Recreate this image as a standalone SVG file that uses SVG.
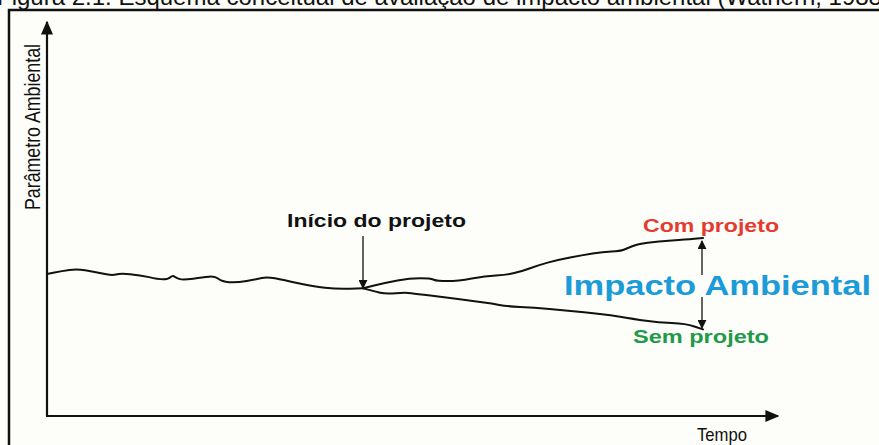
<svg xmlns="http://www.w3.org/2000/svg" width="879" height="445" viewBox="0 0 879 445">
<defs>
<style>
.ln{fill:none;stroke:#111;stroke-width:2;stroke-linejoin:round;stroke-linecap:round}
.ax{fill:none;stroke:#111;stroke-width:2.2}
.th{fill:none;stroke:#111;stroke-width:1.3}
.reg{font-family:"Liberation Sans",Arial,sans-serif;fill:#111}
.bold{font-family:"Liberation Sans",Arial,sans-serif;font-weight:bold}
</style>
<marker id="ahBig" viewBox="0 0 10 10" refX="9" refY="5" markerWidth="14" markerHeight="12" markerUnits="userSpaceOnUse" orient="auto" preserveAspectRatio="none">
<path d="M0,0 L10,5 L0,10 z" fill="#111"/>
</marker>
<marker id="ahSm" viewBox="0 0 10 10" refX="9" refY="5" markerWidth="9" markerHeight="9" markerUnits="userSpaceOnUse" orient="auto" preserveAspectRatio="none">
<path d="M0,0 L10,5 L0,10 z" fill="#111"/>
</marker>
</defs>
<rect x="0" y="0" width="879" height="445" fill="#fdfdfa"/>
<text class="reg" x="-3" y="5" font-size="24">Figura 2.1: Esquema conceitual de avaliação de impacto ambiental (Wathern, 1988)</text>
<rect id="frame" x="9" y="10" width="900" height="460" fill="none" stroke="#111" stroke-width="2.5"/>

<g id="axes">
<line class="ax" x1="47" y1="416" x2="47" y2="22" marker-end="url(#ahBig)"/>
<line class="ax" x1="46" y1="416" x2="778" y2="416" marker-end="url(#ahBig)"/>
</g>
<g id="label-y"><text class="reg" font-size="22" transform="translate(40,127) rotate(-90)" text-anchor="middle" textLength="166" lengthAdjust="spacingAndGlyphs">Parâmetro Ambiental</text></g>
<g id="label-x"><text class="reg" x="697" y="441" font-size="19" textLength="50" lengthAdjust="spacingAndGlyphs">Tempo</text></g>

<g id="connectors">
<path id="baseline" class="ln" d="M47,274 L54.5,272.5 Q62,271 69.5,270 Q77,269 85,270.25 Q93,271.5 102.35,273.6 Q111.7,275.7 115.85,274.5 Q120,273.3 130,274.15 Q140,275 149,277.15 Q158,279.3 163,279.3 Q168,279.3 170.35,277.15 Q172.7,275 174.7,276.65 Q176.7,278.3 180,279.15 Q183.3,280 193.15,278.65 Q203,277.3 209,276.65 Q215,276 218.35,278.85 Q221.7,281.7 229.2,282.2 Q236.7,282.7 246.7,281 Q256.7,279.3 261.7,278 Q266.7,276.7 275,278.35 Q283.3,280 298.3,283.35 Q313.3,286.7 325,287.85 Q336.7,289 349.85,288.65 L363,288.3"/>
<path id="com" class="ln" d="M363,288.3 L374.2,285.55 Q385.4,282.8 397.5,280.55 Q409.6,278.3 419.95,278.3 Q430.3,278.3 433.75,279.7 Q437.2,281.1 447.55,281.1 Q457.9,281.1 471.7,278.5 Q485.5,275.9 495.9,275.4 Q506.3,274.9 513.2,273.35 Q520.1,271.8 528.7,268.7 Q537.3,265.6 547.65,262.65 Q558,259.7 570.1,257.45 Q582.2,255.2 592.55,253.5 Q602.9,251.8 611.55,251.45 Q620.2,251.1 623.65,249.7 Q627.1,248.3 632.25,246.25 Q637.4,244.2 647.75,242.8 Q658.1,241.4 671.9,240.55 Q685.7,239.7 694.35,238.85 L703,238"/>
<path id="sem" class="ln" d="M363,288.3 L369,289.9 Q375,291.5 380.2,292.7 Q385.4,293.9 395.75,293.2 Q406.1,292.5 411.3,293.2 Q416.5,293.9 430.3,295.6 Q444.1,297.3 457.9,299.05 Q471.7,300.8 482.05,302.15 Q492.4,303.5 499.35,304.9 Q506.3,306.3 520.1,307 Q533.9,307.7 549.45,309.05 Q565,310.4 583.95,312.15 Q602.9,313.9 618.45,316.5 Q634,319.1 646.05,320.8 Q658.1,322.5 671.9,323.05 Q685.7,323.6 694.35,326.5 L703,329.4"/>
<line class="th" x1="363" y1="236" x2="363" y2="288" marker-end="url(#ahSm)"/>
<line class="th" x1="702" y1="275" x2="702" y2="241" marker-end="url(#ahSm)"/>
<line class="th" x1="702" y1="297" x2="702" y2="328" marker-end="url(#ahSm)"/>
</g>

<g id="inicio"><text class="bold" x="287" y="227" font-size="18" fill="#111" textLength="179" lengthAdjust="spacingAndGlyphs">Início do projeto</text></g>
<g id="com-projeto"><text class="bold" x="643" y="232" font-size="18" fill="#e53a2e" textLength="136" lengthAdjust="spacingAndGlyphs">Com projeto</text></g>
<g id="sem-projeto"><text class="bold" x="633" y="343" font-size="18" fill="#1e9a48" textLength="136" lengthAdjust="spacingAndGlyphs">Sem projeto</text></g>
<g id="impacto"><text class="bold" x="564" y="295" font-size="27" fill="#1b9bd7" textLength="307" lengthAdjust="spacingAndGlyphs">Impacto Ambiental</text></g>
</svg>
